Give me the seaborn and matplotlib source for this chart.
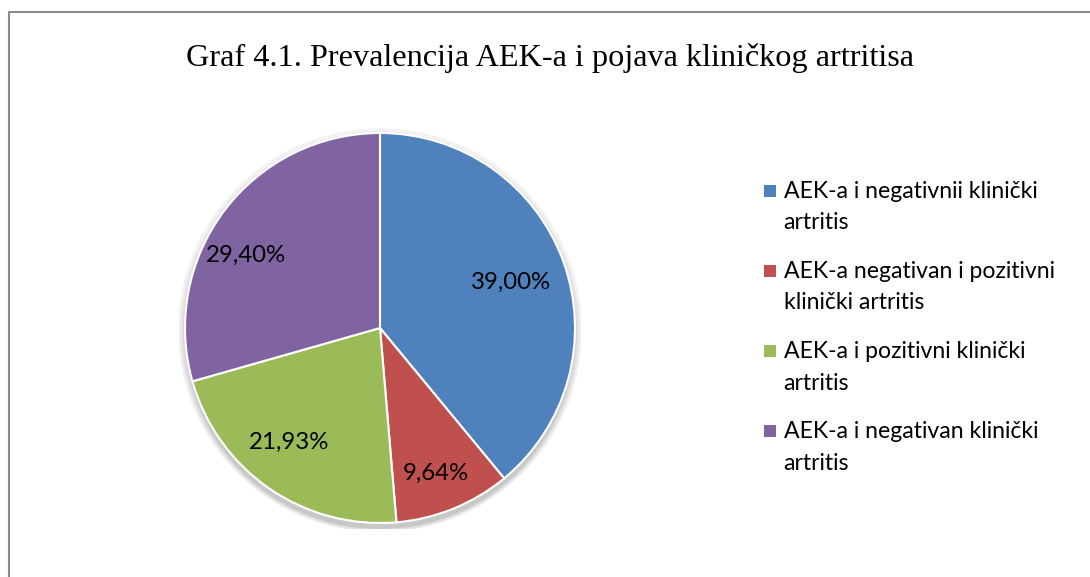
import numpy as np
import matplotlib.pyplot as plt
import seaborn as sns
from matplotlib.lines import Line2D
from matplotlib.patches import Rectangle, Circle
from matplotlib.legend_handler import HandlerBase

# chart data
categories = [
    'AEK-a i negativnii klinički\nartritis',
    'AEK-a negativan i pozitivni\nklinički artritis',
    'AEK-a i pozitivni klinički\nartritis',
    'AEK-a i negativan klinički\nartritis',
]
values = [39.00, 9.64, 21.93, 29.40]
value_labels = ['39,00%', '9,64%', '21,93%', '29,40%']
colors = ['#4F81BD', '#C0504D', '#9BBB59', '#8064A2']
title = 'Graf 4.1. Prevalencija AEK-a i pojava kliničkog artritisa'

# label placement ("best fit" style): radial distance and angle shift
label_dist = [0.71, 0.80, 0.75, 0.78]
label_shift = [-0.4, -1.2, -4.0, 8.7]

sns.set_style('white')
plt.rcParams['font.family'] = ['Lato', 'DejaVu Sans']
plt.rcParams['text.color'] = 'black'


class TopSquare(HandlerBase):
    # legend marker aligned with the first line of a wrapped label
    def create_artists(self, legend, orig_handle, xdescent, ydescent,
                       width, height, fontsize, trans):
        s = 0.52 * fontsize
        y = -ydescent + height / 2 - s / 2 + 0.72 * fontsize
        p = Rectangle((-xdescent + width - s, y), s, s,
                      facecolor=orig_handle.get_facecolor(), edgecolor='none',
                      transform=trans)
        return [p]


W, H, DPI = 1090, 577, 100
fig = plt.figure(figsize=(W / DPI, H / DPI), dpi=DPI)

# pie axes: center ~ (380, 328), radius ~ 195 px
lim = 1.03
r = 195 * lim
cx, cy = 380, 328
ax = fig.add_axes([(cx - r) / W, 1 - (cy + r) / H, 2 * r / W, 2 * r / H])

# soft shadow behind the pie
for k, a in enumerate([0.05, 0.05, 0.06, 0.07]):
    ax.add_patch(Circle((0, -0.012 - 0.006 * k), 1.0 + 0.012 * (3 - k),
                        facecolor='black', alpha=a, edgecolor='none', zorder=0))

wedges, _ = ax.pie(values, colors=colors, startangle=90, counterclock=False,
                   wedgeprops=dict(edgecolor='white', linewidth=1.5, zorder=2),
                   radius=1.0)
ax.set_xlim(-lim, lim)
ax.set_ylim(-lim, lim)
ax.set_aspect('equal')
ax.axis('off')

# percentage labels
for w, lab, dist, sh in zip(wedges, value_labels, label_dist, label_shift):
    mid = np.deg2rad((w.theta1 + w.theta2) / 2 + sh)
    ax.text(dist * np.cos(mid), dist * np.sin(mid), lab, ha='center', va='center',
            fontsize=17.3, color='black', zorder=3)

fig.text(0.505, 1 - 58 / H, title, ha='center', va='center', color='black',
         fontsize=23.2, family=['Liberation Serif', 'DejaVu Serif'])

leg = fig.legend(wedges, categories, loc='upper left',
                 bbox_to_anchor=(741 / W, 1 - 160 / H), frameon=False,
                 fontsize=16.6, handlelength=0.6, handleheight=0.6,
                 handletextpad=0.35, labelspacing=1.2,
                 handler_map={type(wedges[0]): TopSquare()})
for t in leg.get_texts():
    t.set_linespacing(1.62)

# chart area border (top and left edges visible)
fig.add_artist(Line2D([8.5 / W, 1], [1 - 11.5 / H, 1 - 11.5 / H], color='#8c8c8c', lw=1.5,
                      transform=fig.transFigure))
fig.add_artist(Line2D([8.5 / W, 8.5 / W], [0, 1 - 11.5 / H], color='#8c8c8c', lw=1.5,
                      transform=fig.transFigure))

fig.savefig('out.png', dpi=DPI)
